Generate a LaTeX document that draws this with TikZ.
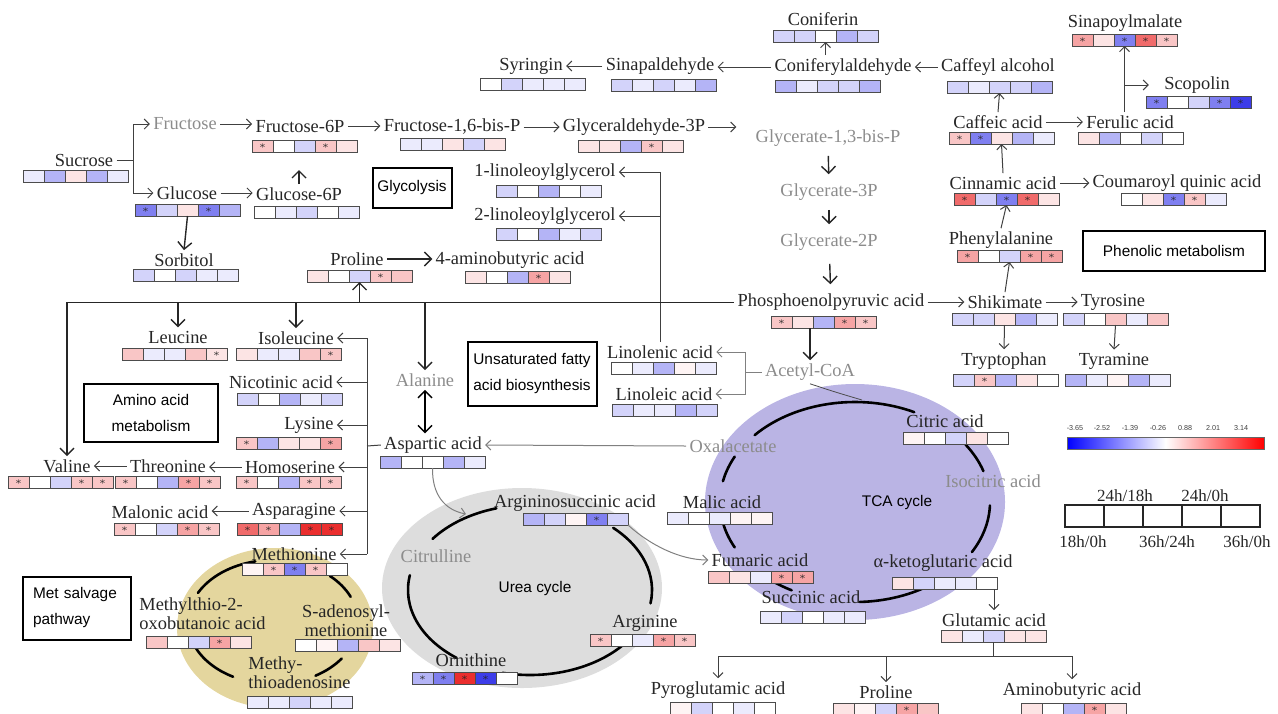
\documentclass[tikz,border=0pt]{standalone}
\usepackage{fontspec}
\setmainfont{Liberation Serif}
\setsansfont{Liberation Sans}
\usetikzlibrary{arrows.meta, calc}

\definecolor{hblue}{RGB}{35,35,230}
\definecolor{hred}{RGB}{232,28,28}
\colorlet{W}{white}
\colorlet{B1}{hblue!9}
\colorlet{B2}{hblue!20}
\colorlet{B3}{hblue!34}
\colorlet{B4}{hblue!58}
\colorlet{B5}{hblue!88}
\colorlet{R0}{hred!5}
\colorlet{R1}{hred!12}
\colorlet{R2}{hred!25}
\colorlet{R3}{hred!40}
\colorlet{R4}{hred!65}
\colorlet{R5}{hred!92}
\definecolor{tcafill}{RGB}{186,180,228}
\definecolor{ureafill}{RGB}{221,221,221}
\definecolor{metfill}{RGB}{228,214,158}

% heat strip of five cells: name, x, y (top left, px), colour/star list
\newcommand{\heat}[4]{%
  \foreach \hc/\hs [count=\hi from 0] in {#4}{
    \filldraw[cell, fill=\hc] ({#2+21*\hi},#3) rectangle ++(21,12);
    \ifnum\hs=1 \node[ast] at ({#2+21*\hi+10.5},{#3+6}) {$\ast$};\fi
  }
  \node[strip] (#1) at ({#2+52.5},{#3+6}) {};
}

\begin{document}
\begin{tikzpicture}[x=0.5pt, y=-0.5pt,
    lab/.style={font=\fontsize{9.2}{9.6}\selectfont, text=black!85, inner sep=1.5pt},
    glab/.style={lab, text=black!45},
    box/.style={draw, line width=1pt, font=\sffamily\fontsize{7.7}{13}\selectfont,
                align=center, inner sep=0pt},
    cyclab/.style={font=\sffamily\fontsize{7.7}{9}\selectfont},
    arr/.style={-{Straight Barb[length=2.5pt, width=5pt]}, draw=black!75, line width=0.5pt},
    bigarr/.style={-{Straight Barb[length=3.5pt, width=7pt]}, draw=black!85, line width=0.7pt},
    garr/.style={arr, draw=black!50},
    loopline/.style={line width=1.3pt, line cap=round},
    cell/.style={draw=black!70, line width=0.4pt},
    ast/.style={font=\fontsize{4.5}{4.5}\selectfont, inner sep=0pt, text=black!85},
    strip/.style={minimum width=52.5pt, minimum height=6pt, inner sep=0pt, outer sep=0pt},
    tick/.style={font=\sffamily\fontsize{3.6}{4}\selectfont, text=black!75, inner sep=0pt},
    leg/.style={font=\fontsize{8.5}{9}\selectfont, text=black!85, inner sep=0pt}
  ]
  \useasboundingbox (0,0) rectangle (1278,713);

  % cycles
  \fill[metfill]  (275,628) ellipse [x radius=98, y radius=80];
  \fill[ureafill] (522,588) ellipse [x radius=140, y radius=100];
  \fill[tcafill]  (855,502) ellipse [x radius=150, y radius=118];
  \coordinate (tcac) at (855,502);
  \coordinate (ureac) at (530,590);
  \coordinate (metc) at (273,622);
  \foreach \a/\b in {222/296, 325/342, 2/30, 55/88, 118/128, 153/168, 192/207}
    \draw[loopline] ($(tcac)+(\a:135 and 100)$) arc[start angle=\a, end angle=\b, x radius=135, y radius=100];
  \foreach \a/\b in {217/254, 313/369, 41/103, 127/190}
    \draw[loopline] ($(ureac)+(\a:122 and 85)$) arc[start angle=\a, end angle=\b, x radius=122, y radius=85];
  \foreach \a/\b in {208/258, 312/336, 36/60, 118/158}
    \draw[loopline] ($(metc)+(\a:85 and 62)$) arc[start angle=\a, end angle=\b, x radius=85, y radius=62];
  \node[cyclab] (ureal) at (535,589) {Urea cycle};
  \node[cyclab] (tcal)  at (897,503) {TCA cycle};

  % glycolysis
  \node[lab]  (suc) at (84,160)  {Sucrose};
  \node[glab] (fru) at (185,124) {Fructose};
  \node[lab]  (glc) at (187,193) {Glucose};
  \node[lab]  (f6p) at (300,126) {Fructose-6P};
  \node[lab]  (g6p) at (299,194) {Glucose-6P};
  \node[lab]  (fbp) at (452,127) {Fructose-1,6-bis-P};
  \node[lab]  (gap) at (634,127) {Glyceraldehyde-3P};
  \node[glab] (bpg) at (828,138) {Glycerate-1,3-bis-P};
  \node[glab] (g3p) at (829,192) {Glycerate-3P};
  \node[glab] (g2p) at (829,242) {Glycerate-2P};
  \node[lab]  (pep) at (831,302) {Phosphoenolpyruvic acid};
  \node[lab]  (sor) at (184,260) {Sorbitol};
  \node[box, minimum width=39.5pt, minimum height=20pt] (glybox) at (412,188) {Glycolysis};
  \heat{sucb}{23}{170}{B1/0,B3/0,R1/0,B3/0,B1/0}
  \heat{glcb}{135}{204}{B4/1,B2/0,R1/0,B4/1,B3/0}
  \heat{f6pb}{252}{140}{R2/1,W/0,B2/0,R2/1,R1/0}
  \heat{g6pb}{254}{206}{W/0,B1/0,B2/0,W/0,B1/0}
  \heat{fbpb}{400}{138}{B1/0,B1/0,R1/0,B2/0,R1/0}
  \heat{gapb}{578}{140}{R1/0,R1/0,B3/0,R2/1,R1/0}
  \heat{pepb}{771}{316}{R2/1,R1/0,B3/0,R3/1,R2/1}
  \heat{sorb}{133}{269}{B2/0,W/0,B2/0,B1/0,B1/0}
  \coordinate (sj) at (133,160);
  \draw[black!75, line width=0.5pt] (suc.east) -- (sj);
  \draw[arr] (sj) |- (fru.west);
  \draw[arr] (sj) |- (glc.west);
  \draw[arr] (fru.east) -- (fru.east -| f6p.west);
  \draw[arr] (glc.east) -- (glc.east -| g6p.west);
  \draw[bigarr, shorten >=9pt] (g6p.north) -- (g6p.north |- f6pb.south);
  \draw[arr] (f6p.east) -- (f6p.east -| fbp.west);
  \draw[arr] (fbp.east) -- (fbp.east -| gap.west);
  \draw[arr, shorten >=8pt] (gap.east) -- (gap.east -| bpg.west);
  \draw[bigarr, shorten <=3pt, shorten >=3pt] (bpg) -- (g3p);
  \draw[bigarr, shorten <=3pt, shorten >=3pt] (g3p) -- (g2p);
  \draw[bigarr, shorten <=5pt, shorten >=3pt] (g2p) -- (pep);
  \draw[bigarr] (glcb.south) -- (sor.north);

  % phenylpropanoids
  \node[lab] (syr) at (531,66)  {Syringin};
  \node[lab] (sin) at (660,66)  {Sinapaldehyde};
  \node[lab] (cfa) at (843,67)  {Coniferylaldehyde};
  \node[lab] (cfn) at (823,19)  {Coniferin};
  \node[lab] (caf) at (998,67)  {Caffeyl alcohol};
  \node[lab] (cac) at (998,122) {Caffeic acid};
  \node[lab] (fer) at (1130,122) {Ferulic acid};
  \node[lab] (spm) at (1125,23) {Sinapoylmalate};
  \node[lab] (sco) at (1197,85) {Scopolin};
  \node[lab] (cin) at (1003,183) {Cinnamic acid};
  \node[lab] (cqa) at (1177,183) {Coumaroyl quinic acid};
  \node[lab] (phe) at (1001,240) {Phenylalanine};
  \node[lab] (shk) at (1005,302) {Shikimate};
  \node[lab] (tyr) at (1113,302) {Tyrosine};
  \node[lab] (trp) at (1004,361) {Tryptophan};
  \node[lab] (tym) at (1114,361) {Tyramine};
  \node[box, minimum width=91pt, minimum height=20pt] (phenbox) at (1174,251) {Phenolic metabolism};
  \heat{syrb}{480}{78}{W/0,B2/0,B1/0,B1/0,B1/0}
  \heat{sinb}{611}{79}{B2/0,B1/0,B2/0,B1/0,B3/0}
  \heat{cfab}{775}{80}{B3/0,B1/0,B2/0,B2/0,B3/0}
  \heat{cfnb}{773}{30}{B2/0,B2/0,W/0,B3/0,B2/0}
  \heat{cafb}{947}{81}{B2/0,B1/0,B2/0,B2/0,B3/0}
  \heat{spmb}{1072}{34}{R3/1,R1/0,B4/1,R4/1,R2/1}
  \heat{scob}{1146}{96}{B4/1,W/0,B2/0,B4/1,B5/1}
  \heat{cacb}{949}{132}{R2/1,B4/1,R1/0,B3/0,B1/0}
  \heat{ferb}{1078}{132}{R1/0,B3/0,W/0,B2/0,W/0}
  \heat{cinb}{954}{193}{R4/1,B2/0,B4/1,R4/1,R1/0}
  \heat{cqab}{1121}{193}{W/0,R1/0,B4/1,R2/1,B1/0}
  \heat{pheb}{957}{250}{R3/1,W/0,B2/0,R3/1,R3/1}
  \heat{shkb}{952}{313}{B2/0,B2/0,R1/0,B3/0,B1/0}
  \heat{tyrb}{1063}{313}{B2/0,W/0,R2/0,B1/0,R2/0}
  \heat{trpb}{953}{374}{B2/0,R2/1,B3/0,R1/0,W/0}
  \heat{tymb}{1065}{374}{B3/0,B1/0,R0/0,B3/0,B1/0}
  \draw[arr] (sin.west) -- (sin.west -| syr.east);
  \draw[arr] (cfa.west) -- (cfa.west -| sin.east);
  \draw[arr] (cfnb.south |- cfa.north) -- (cfnb.south);
  \draw[arr] (caf.west) -- (caf.west -| cfa.east);
  \draw[arr] (cac.north) -- (cafb.south);
  \draw[arr] (cac.east) -- (cac.east -| fer.west);
  \draw[arr] (spmb.south |- fer.north) -- (spmb.south);
  \draw[arr, shorten >=6pt] (spmb.south |- sco) -- (sco.west);
  \draw[arr] (cin.north) -- (cacb.south);
  \draw[arr] (cin.east) -- (cin.east -| cqa.west);
  \draw[arr] (phe.north) -- (cinb.south);
  \draw[arr] (pep.east) -- (pep.east -| shk.west);
  \draw[arr] (shk.north) -- (pheb.south);
  \draw[arr] (shk.east) -- (shk.east -| tyr.west);
  \draw[arr] (shkb.south) -- (trp.north);
  \draw[arr] (tyrb.south) -- (tym.north);

  % lipids
  \node[lab]  (lg1) at (545,172) {1-linoleoylglycerol};
  \node[lab]  (lg2) at (545,216) {2-linoleoylglycerol};
  \node[lab]  (lnn) at (660,352) {Linolenic acid};
  \node[lab]  (lnl) at (664,394) {Linoleic acid};
  \node[glab] (aco) at (810,372) {Acetyl-CoA};
  \node[box, minimum width=64.5pt, minimum height=32pt] (ufabox) at (532,374) {Unsaturated fatty\\acid biosynthesis};
  \heat{lg1b}{496}{185}{B2/0,W/0,B3/0,W/0,B1/0}
  \heat{lg2b}{496}{228}{B2/0,W/0,B3/0,B1/0,B2/0}
  \heat{lnnb}{611}{362}{W/0,B1/0,B3/0,R0/0,B1/0}
  \heat{lnlb}{612}{404}{B2/0,B1/0,B1/0,B3/0,B2/0}
  \draw[black!75, line width=0.5pt] (lnn.north) -- (lnn.north |- lg1);
  \draw[arr] (lnn.north |- lg1) -- (lg1.east);
  \draw[arr] (lnn.north |- lg2) -- (lg2.east);
  \coordinate (acj) at (745,372);
  \draw[black!50, line width=0.5pt] (aco.west) -- (acj);
  \draw[garr] (acj) |- (lnn.east);
  \draw[garr] (acj) |- (lnl.east);
  \draw[bigarr] (aco.north |- pepb.south) -- (aco.north);

  % amino acids
  \node[lab]  (pro) at (357,259) {Proline};
  \node[lab]  (gaba) at (510,260) {4-aminobutyric acid};
  \node[lab]  (leu) at (178,337) {Leucine};
  \node[lab]  (ile) at (296,338) {Isoleucine};
  \node[lab]  (nic) at (281,382) {Nicotinic acid};
  \node[lab]  (lys) at (309,425) {Lysine};
  \node[lab]  (hse) at (290,467) {Homoserine};
  \node[lab]  (thr) at (168,466) {Threonine};
  \node[lab]  (val) at (67,466)  {Valine};
  \node[lab]  (mal) at (160,512) {Malonic acid};
  \node[lab]  (asn) at (294,511) {Asparagine};
  \node[lab]  (met) at (294,554) {Methionine};
  \node[glab] (ala) at (425,380) {Alanine};
  \node[lab]  (asp) at (433,445) {Aspartic acid};
  \node[glab] (oaa) at (733,446) {Oxalacetate};
  \node[box, minimum width=67pt, minimum height=29pt] (aabox) at (151,413) {Amino acid\\metabolism};
  \heat{prob}{307}{270}{R1/0,W/0,B2/0,R2/1,R2/0}
  \heat{gabab}{465}{271}{R1/0,W/0,B3/0,R3/1,R1/0}
  \heat{leub}{122}{348}{R2/0,B1/0,B1/0,R2/0,R1/1}
  \heat{ileb}{236}{348}{R1/0,B1/0,B1/0,R2/0,R2/1}
  \heat{nicb}{237}{393}{B2/0,W/0,B3/0,B1/0,B2/0}
  \heat{lysb}{236}{437}{R2/1,B3/0,R1/0,R1/0,R3/1}
  \heat{hseb}{236}{476}{R2/1,W/0,B3/0,R2/1,R2/1}
  \heat{thrb}{115}{476}{R2/1,W/0,B3/0,R3/1,R2/1}
  \heat{valb}{8}{476}{R2/1,W/0,B2/0,R2/1,R2/1}
  \heat{malb}{114}{523}{R2/1,W/0,B2/0,R3/1,R2/1}
  \heat{asnb}{237}{523}{R4/1,R3/1,B3/0,R5/1,R5/1}
  \heat{metb}{242}{563}{R0/0,R2/1,B4/1,R2/1,W/0}
  \heat{aspb}{380}{456}{B3/0,W/0,W/0,B3/0,B1/0}
  \draw[bigarr] (pro.east) -- (pro.east -| gaba.west);
  \coordinate (vj) at (67,302);
  \draw[black!85, line width=0.5pt] (vj) -- (pep.west);
  \draw[bigarr] (vj) -- (val.north);
  \draw[bigarr] (vj -| leu.north) -- (leu.north);
  \draw[bigarr] (vj -| ile.north) -- (ile.north);
  \draw[bigarr] (vj -| prob.south) -- (prob.south);
  \draw[bigarr] (vj -| ala.north) -- (ala.north);
  \draw[{Straight Barb[length=3.5pt, width=7pt]}-{Straight Barb[length=3.5pt, width=7pt]}, line width=0.7pt]
    (ala.south) -- (ala.south |- asp.north);
  \coordinate (aj) at (367,446);
  \draw[black!75, line width=0.5pt] (aj |- ile) -- (aj |- met);
  \draw[black!75, line width=0.5pt] (aj) -- (asp.west);
  \draw[arr] (aj |- ile) -- (ile.east);
  \draw[arr] (aj |- nic) -- (nic.east);
  \draw[arr] (aj |- lys) -- (lys.east);
  \draw[arr] (aj |- hse) -- (hse.east);
  \draw[arr] (aj |- asn) -- (asn.east);
  \draw[arr] (aj |- met) -- (met.east);
  \draw[arr] (hse.west) -- (hse.west -| thr.east);
  \draw[arr] (thr.west) -- (thr.west -| val.east);
  \draw[arr] (asn.west) -- (asn.west -| mal.east);
  \draw[garr] (oaa.west) -- (asp.east);

  % met salvage
  \node[lab, anchor=west, align=left] (mob) at (136,614) {Methylthio-2-\\oxobutanoic acid};
  \node[lab, align=center] (sam) at (346,621) {S-adenosyl-\\methionine};
  \node[lab, anchor=west, align=left] (mta) at (245,673) {Methy-\\thioadenosine};
  \node[box, minimum width=54pt, minimum height=31.5pt, text width=44pt, align=left] (msbox) at (77,608) {Met salvage\\pathway};
  \heat{mobb}{146}{636}{R2/0,W/0,B2/0,R3/1,R1/0}
  \heat{samb}{295}{639}{W/0,R0/0,B3/0,R2/0,R1/0}
  \heat{mtab}{247}{696}{B1/0,B1/0,B2/0,B1/0,B1/0}

  % urea and TCA
  \node[lab]  (asu) at (575,503) {Argininosuccinic acid};
  \node[glab] (ctl) at (436,556) {Citrulline};
  \node[lab]  (arg) at (645,623) {Arginine};
  \node[lab]  (orn) at (471,660) {Ornithine};
  \node[lab]  (mlc) at (722,502) {Malic acid};
  \node[lab]  (fum) at (760,560) {Fumaric acid};
  \node[lab]  (sca) at (811,597) {Succinic acid};
  \node[lab]  (cit) at (945,421) {Citric acid};
  \node[glab] (ict) at (993,481) {Isocitric acid};
  \node[lab]  (akg) at (943,563) {α-ketoglutaric acid};
  \node[lab]  (glu) at (994,620) {Glutamic acid};
  \node[lab]  (pyr) at (718,690) {Pyroglutamic acid};
  \node[lab]  (pro2) at (886,692) {Proline};
  \node[lab]  (aba) at (1072,691) {Aminobutyric acid};
  \heat{asub}{523}{513}{B3/0,B2/0,R0/0,B4/1,B2/0}
  \heat{argb}{590}{634}{R2/1,W/0,B1/0,R3/1,R2/1}
  \heat{ornb}{412}{672}{B3/1,B4/1,R5/1,B5/1,W/0}
  \heat{mlcb}{667}{512}{B1/0,W/0,B1/0,R0/0,R0/0}
  \heat{fumb}{708}{571}{R2/0,R1/0,B1/0,R3/1,R3/1}
  \heat{scab}{760}{611}{B1/0,B2/0,W/0,B1/0,B1/0}
  \heat{citb}{903}{432}{R0/0,W/0,B2/0,R1/0,W/0}
  \heat{akgb}{892}{577}{R1/0,B2/0,B1/0,B1/0,W/0}
  \heat{glub}{941}{630}{R1/0,B1/0,B2/0,R1/0,R1/0}
  \heat{pyrb}{670}{702}{R0/0,B2/0,W/0,B1/0,W/0}
  \heat{pro2b}{833}{703}{R1/0,R0/0,B2/0,R3/1,R2/0}
  \heat{abab}{1021}{703}{R1/0,W/0,B3/0,R3/1,R1/0}
  \coordinate (asuin) at (466,514);
  \coordinate (tcatop) at (862,400);
  \draw[garr] (aspb.south) .. controls (432,495) and (445,510) .. (asuin);
  \draw[garr] (asub.south east) .. controls (650,545) and (680,560) .. (fum.west);
  \draw[black!70, line width=0.4pt] (aco.south) .. controls (835,392) .. (tcatop);
  \draw[arr] (glu.north |- akgb.south) -- (glu.north);
  \coordinate (gj) at (994,656);
  \draw[black!75, line width=0.5pt] (glub.south) -- (glub.south |- gj);
  \draw[black!75, line width=0.5pt] (gj -| pyr.north) -- (gj -| aba.north);
  \draw[arr] (gj -| pyr.north) -- (pyr.north);
  \draw[arr] (gj -| pro2.north) -- (pro2.north);
  \draw[arr] (gj -| aba.north) -- (aba.north);

  % colour key and legend
  \shade[left color=blue, right color=red, middle color=white] (1067,437) rectangle (1264,449);
  \draw[black!60, line width=0.4pt] (1067,437) rectangle (1264,449);
  \foreach \v/\x [count=\k] in {-3.65/1075, -2.52/1102, -1.39/1130, -0.26/1158, 0.88/1185, 2.01/1213, 3.14/1241}
    \node[tick] (cb\k) at (\x,428) {\v};
  \foreach \i in {0,...,4}
    \draw[black!85, line width=0.8pt] ({1065+39*\i},505) rectangle ++(39,22);
  \node[leg] (lg18) at (1125,496) {24h/18h};
  \node[leg] (lg24) at (1205,496) {24h/0h};
  \node[leg] (lh18) at (1083,542) {18h/0h};
  \node[leg] (lh36) at (1167,542) {36h/24h};
  \node[leg] (lh30) at (1247,542) {36h/0h};
\end{tikzpicture}
\end{document}
